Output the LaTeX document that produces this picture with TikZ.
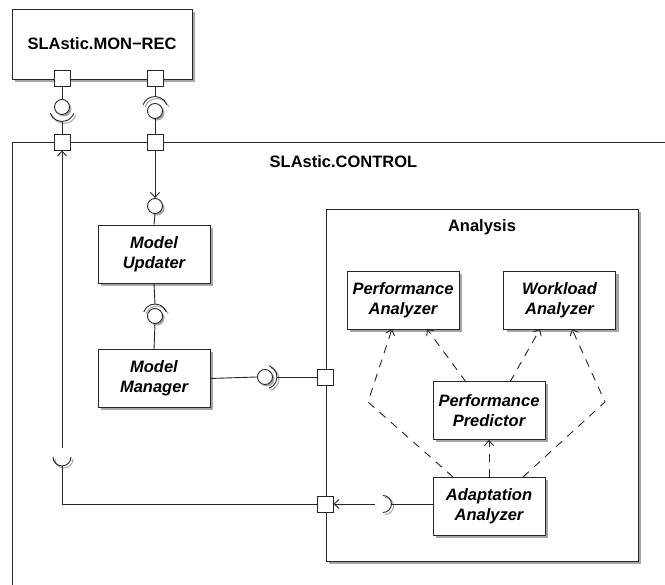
\documentclass[tikz,border=0pt]{standalone}
\usepackage{fontspec}
\setmainfont{Liberation Sans}
\usetikzlibrary{arrows.meta,shadows}
\newcommand\socketarc[4]{% center, start, end, radius
  \draw[black!35,line width=1pt,shift={(2pt,-2pt)}] #1 ++(#2:#4) arc[start angle=#2,end angle=#3,radius=#4];
  \draw[ln] #1 ++(#2:#4) arc[start angle=#2,end angle=#3,radius=#4];}
\tikzset{
  ln/.style={draw=black!85,line width=0.9pt},
  shd/.style={drop shadow={shadow xshift=3pt,shadow yshift=-3pt,fill=black!35,opacity=1}},
  comp/.style={ln,shd,fill=white,minimum width=112pt,minimum height=58pt,align=center,inner sep=0pt,
    font=\bfseries\itshape\fontsize{16.5}{20}\selectfont},
  title/.style={font=\bfseries\fontsize{16.5}{20}\selectfont,inner sep=0pt},
  port/.style={ln,fill=white,minimum size=16pt,inner sep=0pt},
  ball/.style={ln,circle,fill=white,minimum size=15pt,inner sep=0pt,
    drop shadow={shadow xshift=2pt,shadow yshift=-2pt,fill=black!35,opacity=1}},
  tip/.style={-{Straight Barb[length=5pt,width=9pt]}},
  dep/.style={ln,dash pattern=on 8pt off 7pt,tip},
}
\begin{document}
\begin{tikzpicture}[x=1pt,y=1pt]
\useasboundingbox (0,0) rectangle (665,585);
\clip (0,0) rectangle (665,585);
\fill[white] (0,0) rectangle (665,585);

% outer CONTROL component
\draw[ln] (12,-20) rectangle (700,443);
\node[title] (ctltitle) at (343.5,423) {SLAstic.CONTROL};

% MON-REC component
\node[ln,shd,fill=white,minimum width=180pt,minimum height=70pt,title] (monrec) at (102,541) {SLAstic.MON−REC};

% Analysis component
\node[ln,shd,fill=white,minimum width=312pt,minimum height=352pt] (analysis) at (482,200) {};
\node[title] (antitle) at (482,358) {Analysis};

% inner components
\node[comp] (upd) at (154,331) {Model\\Updater};
\node[comp] (mgr) at (154,206.5) {Model\\Manager};
\node[comp] (pa) at (403,284.5) {Performance\\Analyzer};
\node[comp] (wa) at (559.5,284.5) {Workload\\Analyzer};
\node[comp] (pp) at (489,174.5) {Performance\\Predictor};
\node[comp] (aa) at (489,79) {Adaptation\\Analyzer};

% ports
\node[port] (mrL) at (62,507) {};
\node[port] (mrR) at (155,507) {};
\node[port] (ctL) at (62,443) {};
\node[port] (ctR) at (155,443) {};
\node[port] (anT) at (325,208) {};
\node[port] (anB) at (325,81) {};

% interfaces between MON-REC and CONTROL
\socketarc{(62,476)}{200}{340}{12.5}
\node[ball] (ballL) at (62,478) {};
\coordinate (sockLb) at (62,463.5);
\draw[ln] (mrL.south) -- (ballL.north);
\draw[ln] (sockLb) -- (ctL.north);

\socketarc{(155,476)}{20}{160}{12.5}
\node[ball] (ballR) at (155,474) {};
\coordinate (sockRt) at (155,488.5);
\draw[ln] (mrR.south) -- (sockRt);
\draw[ln] (ballR.south) -- (ctR.north);

% delegation to Model Updater
\node[ball] (ballU) at (155,379) {};
\draw[ln,tip] (ctR.south) -- (ballU.north);
\draw[ln] (ballU.south) -- (upd.north);

% Updater - Manager assembly
\socketarc{(155,269)}{20}{160}{12}
\node[ball] (ballM) at (155,269) {};
\coordinate (sockMt) at (155,281);
\draw[ln] (upd.south) -- (sockMt);
\draw[ln] (ballM.south) -- (mgr.north);

% Manager - Analysis port
\socketarc{(265,208)}{-70}{70}{12}
\node[ball] (ballA) at (265,208) {};
\coordinate (sockAr) at (277,208);
\draw[ln] (mgr.east) -- (ballA.west);
\draw[ln] (sockAr) -- (anT.west);

% Adaptation Analyzer required interface
\socketarc{(383,81)}{-90}{90}{8.5}
\coordinate (sockBr) at (391.5,81);
\coordinate (arrS) at (375,81);
\draw[ln] (aa.west |- sockBr) -- (sockBr);
\draw[ln,tip] (arrS) -- (anB.east);

% path back to CONTROL port
\socketarc{(62,128)}{180}{360}{9}
\coordinate (sockCb) at (62,119);
\coordinate (lineTop) at (62,137);
\coordinate (bend) at (62,81);
\draw[ln] (anB.west) -- (bend) -- (sockCb);
\draw[ln,tip] (lineTop) -- (ctL.south);

% dependencies inside Analysis
\coordinate (bl) at (368,183);
\coordinate (br) at (605,183);
\draw[dep] (453,108) -- (bl) -- (392,256);
\draw[dep] (523,108) -- (br) -- (572,256);
\draw[dep] (466,203) -- (427,256);
\draw[dep] (510,203) -- (540,256);
\draw[dep] (aa.north) -- (pp.south);
\end{tikzpicture}
\end{document}
